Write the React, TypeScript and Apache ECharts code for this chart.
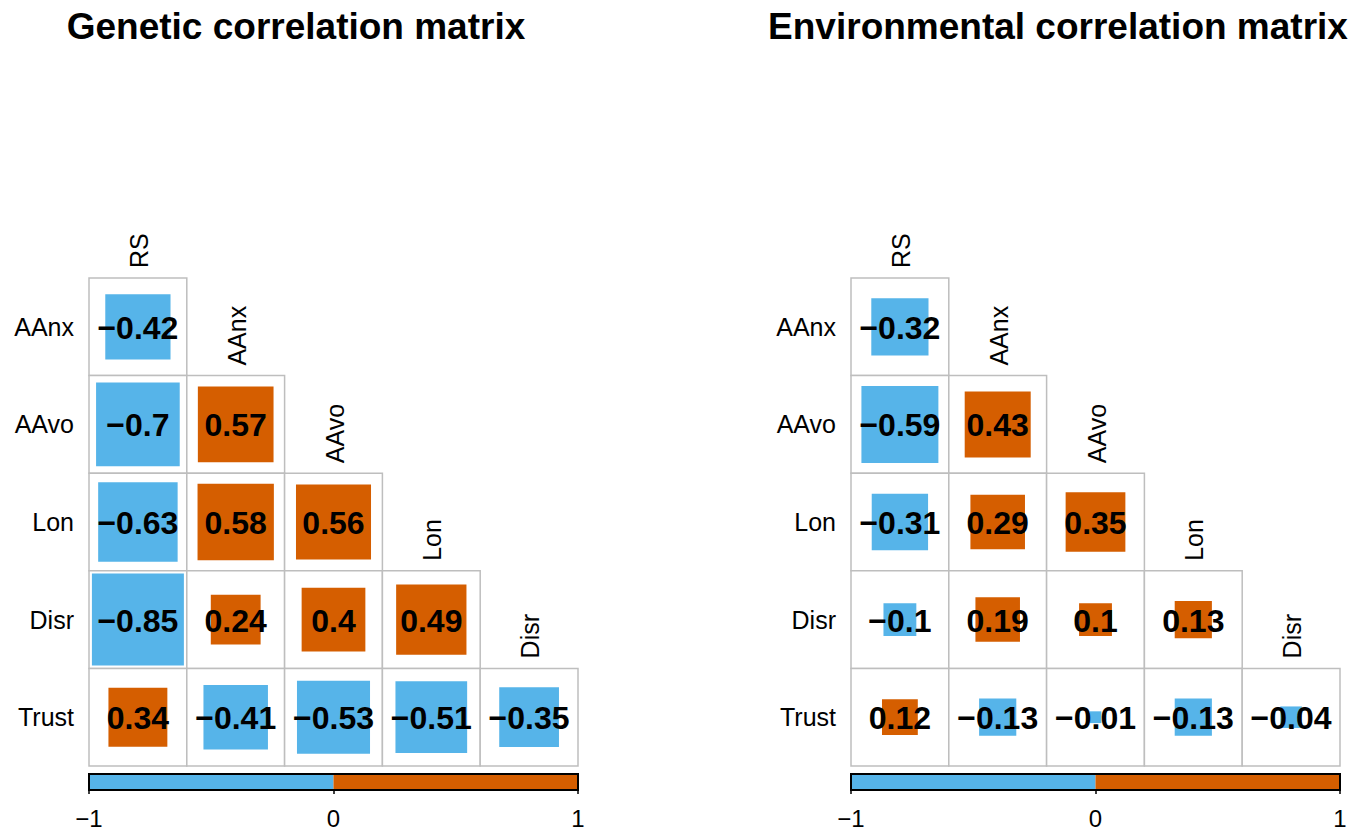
import React, { useEffect, useRef } from "react";
import * as echarts from "echarts";

const colNames = ["RS", "AAnx", "AAvo", "Lon", "Disr"];
const rowNames = ["AAnx", "AAvo", "Lon", "Disr", "Trust"];

const geneticRows: number[][] = [
  [-0.42],
  [-0.7, 0.57],
  [-0.63, 0.58, 0.56],
  [-0.85, 0.24, 0.4, 0.49],
  [0.34, -0.41, -0.53, -0.51, -0.35],
];
const environmentalRows: number[][] = [
  [-0.32],
  [-0.59, 0.43],
  [-0.31, 0.29, 0.35],
  [-0.1, 0.19, 0.1, 0.13],
  [0.12, -0.13, -0.01, -0.13, -0.04],
];
const titles = ["Genetic correlation matrix", "Environmental correlation matrix"];
const barTicks = [-1, 0, 1];

const BLUE = "#56B4E9";
const ORANGE = "#D55E00";
const FONT = "'Liberation Sans', Arial, sans-serif";

const fmt = (v: number) => (v < 0 ? "\u2212" + String(Math.abs(v)) : String(v));

function toData(rows: number[][]) {
  const out: number[][] = [];
  rows.forEach((r, ri) => r.forEach((v, ci) => out.push([ci, ri, v])));
  return out;
}

const cellRender = (params: any, api: any) => {
  const c = api.value(0);
  const r = api.value(1);
  const v = api.value(2);
  const [cx, cy] = api.coord([c, r]);
  const [w, h] = api.size([1, 1]);
  const side = Math.sqrt(Math.abs(v)) * Math.min(w, h) + 2;
  return {
    type: "group",
    children: [
      {
        type: "rect",
        shape: { x: cx - w / 2, y: cy - h / 2, width: w, height: h },
        style: { fill: "#fff", stroke: "#BEBEBE", lineWidth: 1.5 },
      },
      {
        type: "rect",
        shape: { x: cx - side / 2, y: cy - side / 2, width: side, height: side },
        style: { fill: v < 0 ? BLUE : ORANGE },
      },
      {
        type: "text",
        x: cx,
        y: cy + 1,
        style: {
          text: fmt(v),
          fill: "#000",
          font: `bold 32px ${FONT}`,
          align: "center",
          verticalAlign: "middle",
        },
      },
    ],
  };
};

const colLabelRender = (params: any, api: any) => {
  const j = api.value(0);
  const [cx, cy] = api.coord([j, j]);
  const [, h] = api.size([1, 1]);
  return {
    type: "text",
    x: cx + 1,
    y: cy - h / 2 - 10,
    rotation: Math.PI / 2,
    style: {
      text: colNames[j],
      fill: "#000",
      font: `25px ${FONT}`,
      align: "left",
      verticalAlign: "middle",
    },
  };
};

const barRender = (params: any, api: any) => {
  const a = api.value(0);
  const b = api.value(1);
  const [x0, y0] = api.coord([a, 1]);
  const [x1, y1] = api.coord([b, 0]);
  return {
    type: "rect",
    shape: { x: x0, y: y0, width: x1 - x0, height: y1 - y0 },
    style: { fill: a < 0 ? BLUE : ORANGE },
  };
};

const borderRender = (params: any, api: any) => {
  const [x0, y0] = api.coord([api.value(0), 1]);
  const [x1, y1] = api.coord([api.value(1), 0]);
  return {
    type: "rect",
    shape: { x: x0, y: y0, width: x1 - x0, height: y1 - y0 },
    style: { fill: "none", stroke: "#000", lineWidth: 2 },
  };
};

export default function App() {
  const ref = useRef<HTMLDivElement>(null);
  useEffect(() => {
    document.body.style.margin = "0";
    const chart = echarts.init(ref.current!, null, { renderer: "svg" });
    const lefts = [89, 851];
    const grids: any[] = [];
    const xAxes: any[] = [];
    const yAxes: any[] = [];
    const series: any[] = [];
    const datasets = [geneticRows, environmentalRows];
    lefts.forEach((left, k) => {
      grids.push({ left, top: 278, width: 489, height: 488 });
      xAxes.push({ type: "category", data: colNames, gridIndex: 2 * k, show: false });
      yAxes.push({
        type: "category",
        data: rowNames,
        gridIndex: 2 * k,
        inverse: true,
        axisLine: { show: false },
        axisTick: { show: false },
        splitLine: { show: false },
        axisLabel: { fontSize: 25, color: "#000", fontFamily: FONT, margin: 15 },
      });
      grids.push({ left, top: 774, width: 489, height: 16 });
      xAxes.push({
        type: "value",
        gridIndex: 2 * k + 1,
        min: -1,
        max: 1,
        interval: 1,
        axisLine: { show: false },
        splitLine: { show: false },
        axisTick: { show: true, length: 4, lineStyle: { color: "#000", width: 1.5 } },
        axisLabel: {
          fontSize: 24,
          color: "#000",
          fontFamily: FONT,
          margin: 16,
          formatter: (v: number) => (barTicks.includes(v) ? fmt(v) : ""),
        },
      });
      yAxes.push({ type: "value", gridIndex: 2 * k + 1, min: 0, max: 1, show: false });
      series.push({
        type: "custom",
        xAxisIndex: 2 * k,
        yAxisIndex: 2 * k,
        data: toData(datasets[k]),
        renderItem: cellRender,
        clip: false,
      });
      series.push({
        type: "custom",
        xAxisIndex: 2 * k,
        yAxisIndex: 2 * k,
        data: colNames.map((_, j) => [j, j]),
        renderItem: colLabelRender,
        clip: false,
      });
      series.push({
        type: "custom",
        xAxisIndex: 2 * k + 1,
        yAxisIndex: 2 * k + 1,
        data: [[-1, 0], [0, 1]],
        renderItem: barRender,
        clip: false,
      });
      series.push({
        type: "custom",
        xAxisIndex: 2 * k + 1,
        yAxisIndex: 2 * k + 1,
        data: [[-1, 1]],
        renderItem: borderRender,
        clip: false,
      });
    });
    chart.setOption({
      animation: false,
      backgroundColor: "#fff",
      grid: grids,
      xAxis: xAxes,
      yAxis: yAxes,
      series,
      graphic: [
        {
          type: "text",
          x: 296,
          y: 26,
          style: {
            text: titles[0],
            font: `bold 37px ${FONT}`,
            fill: "#000",
            align: "center",
            verticalAlign: "middle",
          },
        },
        {
          type: "text",
          x: 1058,
          y: 26,
          style: {
            text: titles[1],
            font: `bold 37px ${FONT}`,
            fill: "#000",
            align: "center",
            verticalAlign: "middle",
          },
        },
      ],
    });
    return () => chart.dispose();
  }, []);
  return <div ref={ref} style={{ width: 1364, height: 833 }} />;
}
